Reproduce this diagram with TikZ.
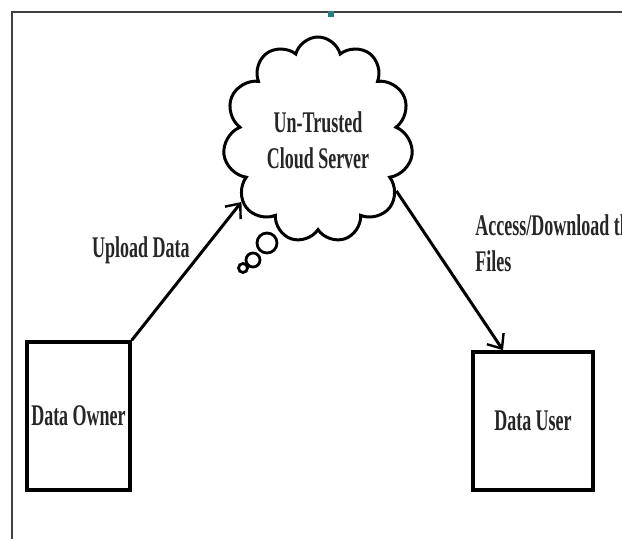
\documentclass[tikz,border=0pt]{standalone}
\usepackage{fontspec}
\setmainfont{Liberation Serif}[FakeStretch=0.6]
\usetikzlibrary{shapes.symbols,arrows.meta}
\tikzset{
  box/.style={draw, line width=1.8pt, minimum width=51.5pt, minimum height=74pt, inner sep=0pt},
  lbl/.style={font=\fontsize{15}{18}\selectfont\bfseries, text=black!85, inner sep=0pt},
  flow/.style={line width=1.5pt, -{Straight Barb[length=6pt,width=10pt,line width=1.2pt]}},
  bubble/.style={circle, draw, line width=1.4pt, inner sep=0pt},
}
\begin{document}
\begin{tikzpicture}[x=0.5pt, y=-0.5pt]
  \clip (0,0) rectangle (622,539);
  % frame of the page
  \draw[line width=0.8pt, black!75] (12,539) -- (12,12) -- (622,12);
  \fill[teal!70!gray] (328,11) rectangle (334,17);

  % server
  \node[cloud, draw, line width=1.5pt, cloud puffs=11, cloud ignores aspect,
        minimum width=95pt, minimum height=103pt, lbl, align=center]
        (cloud) at (318,140) {Un-Trusted\\Cloud Server};
  \node[bubble, minimum size=10pt] (b1) at (267,243) {};
  \node[bubble, minimum size=7pt] (b2) at (253,260) {};
  \node[bubble, minimum size=4.5pt] (b3) at (243,268) {};

  % owner and user
  \node[box, lbl] (owner) at (78.5,416) {Data Owner};
  \node[box, lbl, minimum width=60pt, minimum height=69pt] (user) at (533,421) {Data User};

  \node[lbl, anchor=east] (upl) at (190,250) {Upload Data};
  \node[lbl, anchor=west, align=left] (acc) at (475,243) {Access/Download the\\Files};

  \draw[flow] (owner.north east) -- (cloud.-141);
  \draw[flow] (cloud.-33) -- ([xshift=-15pt]user.north);
\end{tikzpicture}
\end{document}
